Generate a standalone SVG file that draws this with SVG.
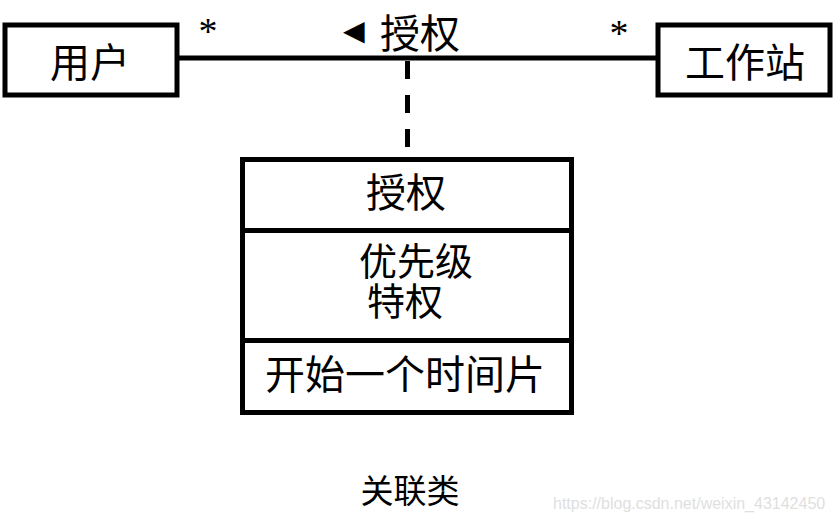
<svg xmlns="http://www.w3.org/2000/svg" width="835" height="522" viewBox="0 0 835 522">
<style>
.box{fill:#fff;stroke:#000;stroke-width:5}
.ln{stroke:#000;stroke-width:5;fill:none}
.t{font-family:"Liberation Serif","Noto Sans CJK SC",serif;font-size:40px;fill:#000;text-anchor:middle}
.star{font-family:"Liberation Serif",serif;font-size:38px;fill:#000;text-anchor:middle}
.wm{font-family:"Liberation Sans",sans-serif;font-size:16px;fill:#e0e0e0}
</style>
<rect width="835" height="522" fill="#fff"/>
<g id="connectors">
<line class="ln" x1="177" y1="58" x2="658" y2="58"/>
<line class="ln" x1="407.5" y1="61" x2="407.5" y2="157" stroke-dasharray="18 16"/>
<text class="star" x="208" y="44">*</text>
<text class="star" x="619" y="46">*</text>
<text x="336" y="48" style="font-family:'Liberation Serif','Noto Sans CJK SC',serif;font-size:40px"><tspan style="font-family:'Liberation Sans',sans-serif;font-size:36px" y="43">◄</tspan><tspan x="380" y="48">授权</tspan></text>
</g>
<g id="user">
<rect class="box" x="5" y="25" width="172" height="70"/>
<text class="t" x="90" y="77">用户</text>
</g>
<g id="workstation">
<rect class="box" x="658" y="25" width="172" height="70"/>
<text class="t" x="745" y="77">工作站</text>
</g>
<g id="association-class">
<rect class="box" x="242.5" y="159.5" width="329" height="253"/>
<line class="ln" x1="242.5" y1="230.5" x2="571.5" y2="230.5"/>
<line class="ln" x1="242.5" y1="340.5" x2="571.5" y2="340.5"/>
<text class="t" x="406" y="207">授权</text>
<text class="t" x="416" y="275" style="font-size:38px">优先级</text>
<text class="t" x="405" y="315" style="font-size:38px">特权</text>
<text class="t" x="405" y="389">开始一个时间片</text>
</g>
<text x="410" y="503" style="font-family:'Liberation Serif','Noto Sans CJK SC',serif;font-size:33px;text-anchor:middle">关联类</text>
<text class="wm" x="553" y="509">https://blog.csdn.net/weixin_43142450</text>
</svg>
